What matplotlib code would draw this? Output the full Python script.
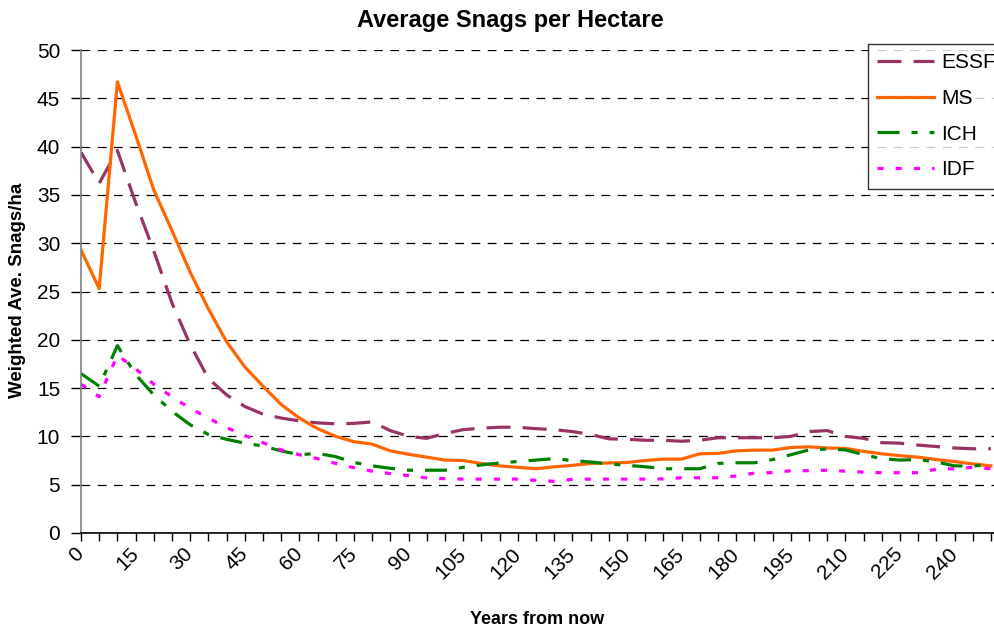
import matplotlib
matplotlib.use("Agg")
import matplotlib.pyplot as plt

plt.rcParams['font.family'] = ['Liberation Sans', 'DejaVu Sans']

# years from now, one point every 5 years
years = list(range(0, 255, 5))

essf = [39.4, 36.2, 39.6, 34.2, 29.2, 23.8, 19.5, 16.0, 14.3, 13.1,
        12.3, 11.9, 11.6, 11.4, 11.3, 11.35, 11.5, 10.6, 10.0, 9.8,
        10.3, 10.7, 10.85, 10.95, 10.95, 10.8, 10.7, 10.5, 10.2, 9.75,
        9.7, 9.6, 9.6, 9.5, 9.6, 9.86, 9.86, 9.86, 9.86, 10.0,
        10.5, 10.6, 10.0, 9.8, 9.35, 9.3, 9.1, 8.95, 8.8, 8.72, 8.72]
ms = [29.3, 25.3, 46.7, 41.2, 35.5, 31.3, 27.0, 23.2, 19.8, 17.2,
      15.2, 13.3, 11.9, 10.8, 10.0, 9.45, 9.2, 8.5, 8.15, 7.85,
      7.55, 7.5, 7.2, 6.95, 6.8, 6.65, 6.85, 7.0, 7.2, 7.25,
      7.3, 7.5, 7.65, 7.65, 8.2, 8.24, 8.5, 8.58, 8.58, 8.85,
      8.92, 8.8, 8.76, 8.45, 8.2, 8.0, 7.85, 7.6, 7.4, 7.15, 6.95]
ich = [16.5, 15.2, 19.4, 16.4, 14.3, 12.6, 11.2, 10.2, 9.7, 9.3,
       9.0, 8.5, 8.1, 8.24, 7.9, 7.3, 6.95, 6.7, 6.5, 6.5,
       6.5, 6.8, 7.05, 7.25, 7.4, 7.55, 7.7, 7.5, 7.35, 7.15,
       7.0, 6.86, 6.65, 6.65, 6.65, 7.2, 7.27, 7.27, 7.6, 8.1,
       8.6, 8.7, 8.6, 8.1, 7.7, 7.55, 7.6, 7.35, 6.95, 6.93, 7.1]
idf = [15.4, 14.1, 18.4, 17.0, 15.4, 14.1, 12.9, 11.9, 10.9, 10.1,
       9.35, 8.6, 8.1, 7.7, 7.2, 6.75, 6.4, 6.15, 5.95, 5.7,
       5.62, 5.58, 5.58, 5.58, 5.58, 5.45, 5.35, 5.55, 5.58, 5.58,
       5.58, 5.58, 5.6, 5.72, 5.72, 5.72, 5.9, 6.2, 6.25, 6.45,
       6.45, 6.5, 6.4, 6.3, 6.24, 6.24, 6.24, 6.6, 6.65, 6.8, 6.65]

fig = plt.figure(figsize=(9.95, 6.31), dpi=100)
W, H = 995.0, 631.0
ax = fig.add_axes([81 / W, 98 / H, 919 / W, 483 / H])

pos = list(range(len(years)))  # category axis like the original
lw = 2.3
ax.plot(pos, essf, color='#993366', lw=lw, linestyle=(0, (7.5, 3.8)), label='ESSF')
ax.plot(pos, ms, color='#FF6600', lw=lw, label='MS')
ax.plot(pos, ich, color='#008000', lw=lw, linestyle=(0, (6.9, 3.75, 1.9, 3.75)), label='ICH')
ax.plot(pos, idf, color='#FF00FF', lw=lw, linestyle=(0, (1.9, 3.8)), label='IDF')

ax.set_xlim(0, 50.5)
ax.set_ylim(0, 50)
ax.set_yticks(range(0, 55, 5))
ax.yaxis.grid(True, color='black', lw=0.9, linestyle=(0, (7, 6)))
ax.set_axisbelow(True)

ax.set_xticks(pos)
ax.set_xticklabels([str(y) if y % 15 == 0 else '' for y in years],
                   rotation=45, ha='right', va='center', rotation_mode='anchor')
ax.tick_params(axis='x', direction='out', length=6, width=1, pad=7, labelsize=15)
ax.tick_params(axis='y', direction='out', length=7, width=1, pad=8, labelsize=15)

for s in ['top', 'right']:
    ax.spines[s].set_visible(False)
ax.spines['left'].set_color('#808080')
ax.spines['left'].set_linewidth(1.2)
ax.spines['bottom'].set_color('black')
ax.spines['bottom'].set_linewidth(1.2)

fig.text(510 / W, 1 - 21 / H, 'Average Snags per Hectare', ha='center', va='center',
         fontsize=17, fontweight='bold')
fig.text(537 / W, 1 - 620 / H, 'Years from now', ha='center', va='center',
         fontsize=13, fontweight='bold')
fig.text(18 / W, 1 - 290 / H, 'Weighted Ave. Snags/ha', ha='center', va='center',
         rotation=90, fontsize=13.5, fontweight='bold')

leg = fig.legend(loc='upper left', bbox_to_anchor=(868 / W, 1 - 44 / H),
                 fontsize=15, frameon=True, fancybox=False, shadow=False,
                 handlelength=2.73, handletextpad=0.33, labelspacing=0.8,
                 borderpad=0.45, borderaxespad=0)
leg.get_frame().set_edgecolor('black')
leg.get_frame().set_linewidth(1.0)

fig.savefig('out.png', dpi=100)
